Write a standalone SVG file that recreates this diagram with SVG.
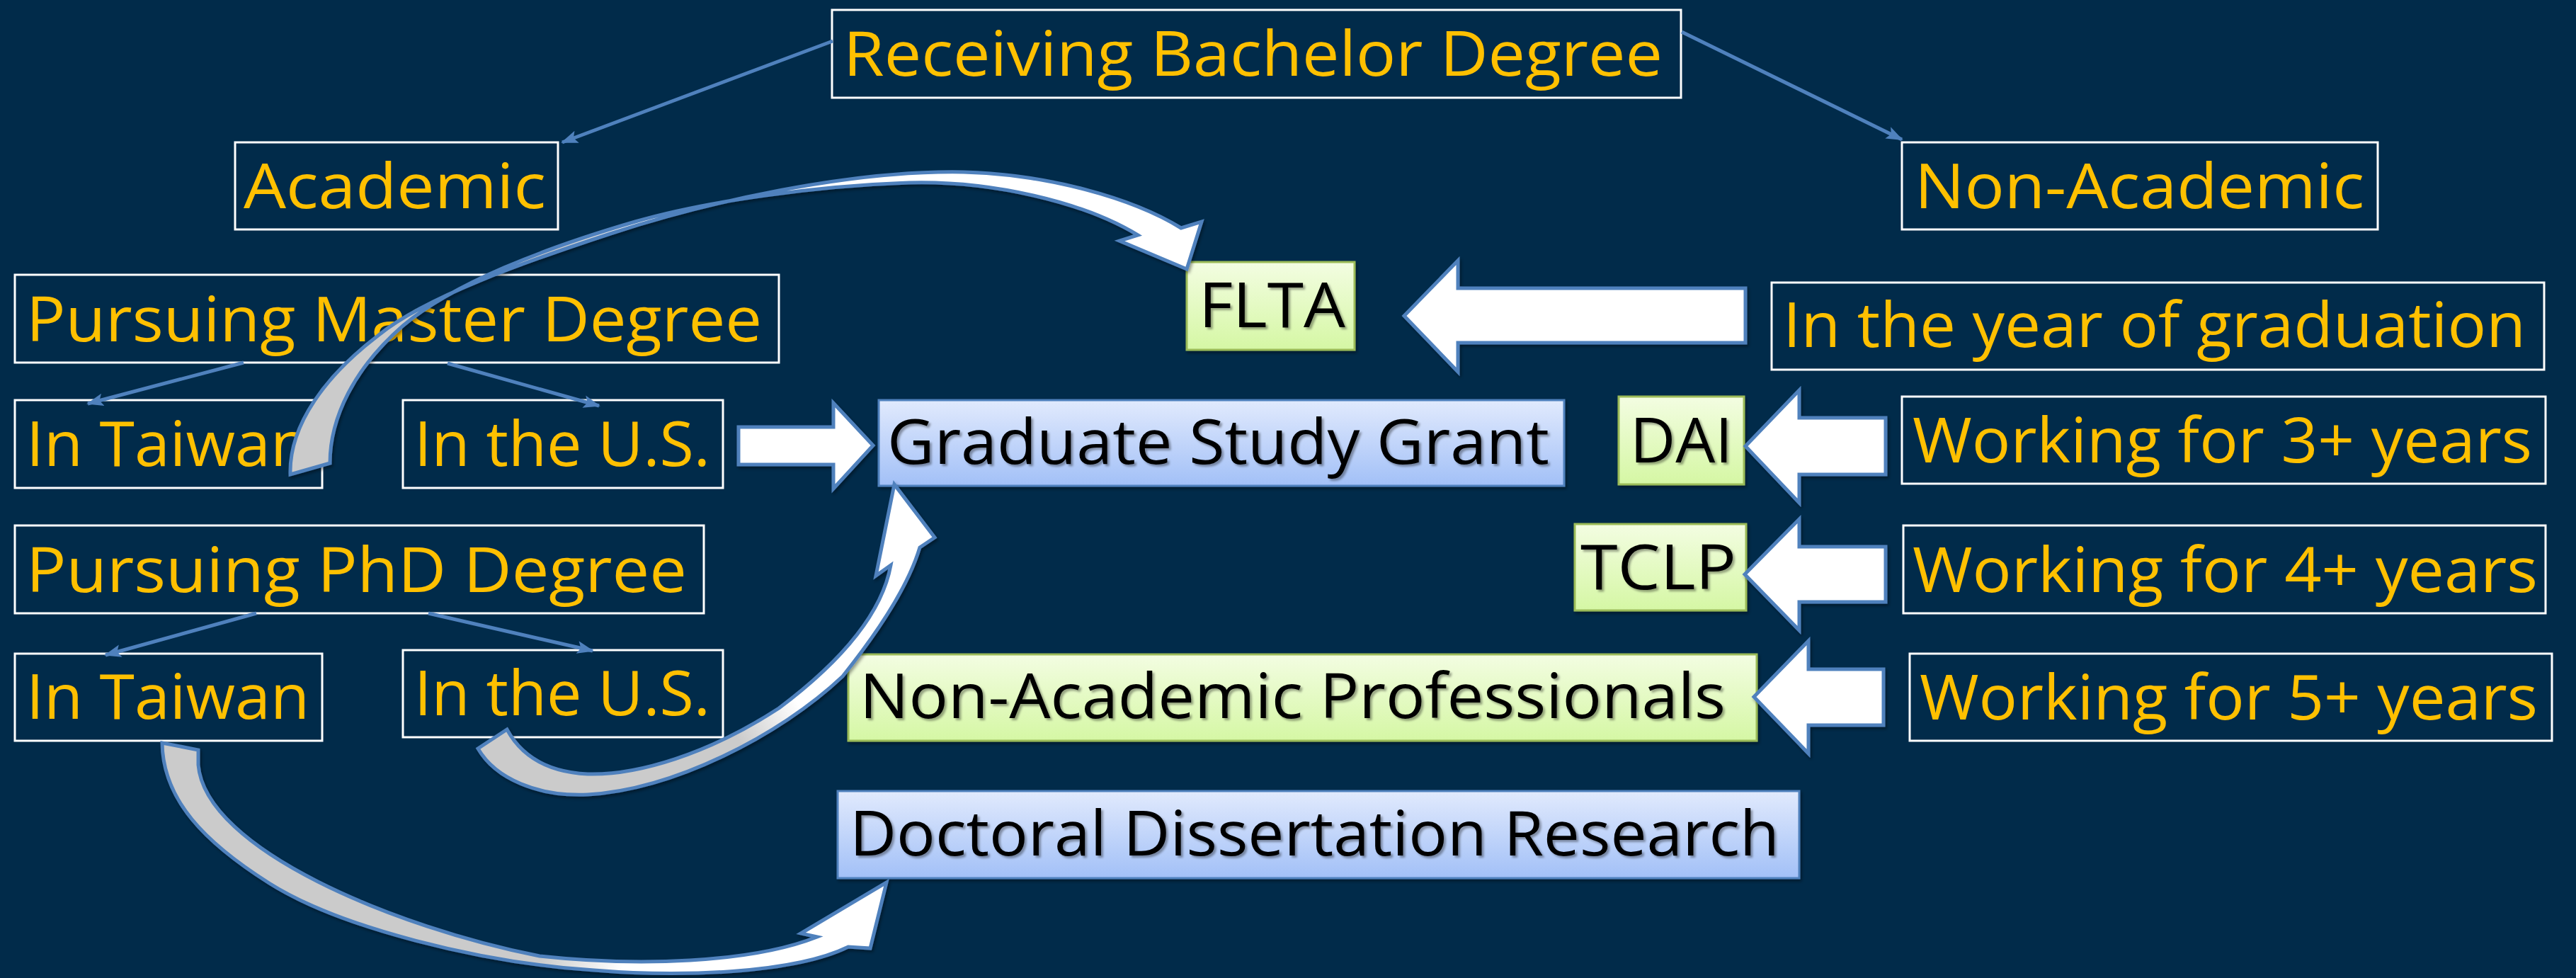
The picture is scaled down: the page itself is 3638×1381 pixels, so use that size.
<svg xmlns="http://www.w3.org/2000/svg" width="3638" height="1381" viewBox="0 0 3638 1381">
<defs>
<style>
.bg{fill:#012B4A}
.wbox{fill:none;stroke:#FFFFFF;stroke-width:3}
.yt{fill:#FFC000;font-family:"Open Sans","Liberation Sans",sans-serif;font-size:88px;font-weight:400}
.bt{fill:#000000;font-family:"Open Sans","Liberation Sans",sans-serif;font-size:88px;filter:url(#tshadow)}
.gbox{fill:url(#green);stroke:#9BBB59;stroke-width:3;filter:url(#bshadow)}
.bbox{fill:url(#blue);stroke:#4F81BD;stroke-width:3;filter:url(#bshadow)}
.line{stroke:#4F81BD;stroke-width:5;fill:none;marker-end:url(#ah)}
.block{fill:#FFFFFF;stroke:#4F81BD;stroke-width:5;stroke-linejoin:miter;filter:url(#bshadow)}
.curve{stroke:#4F81BD;stroke-width:5;stroke-linejoin:miter;filter:url(#bshadow)}
</style>
<linearGradient id="green" x1="0" y1="0" x2="0" y2="1">
<stop offset="0" stop-color="#F3FDE2"/>
<stop offset="1" stop-color="#D5F7A4"/>
</linearGradient>
<linearGradient id="blue" x1="0" y1="0" x2="0" y2="1">
<stop offset="0" stop-color="#E1EAFD"/>
<stop offset="1" stop-color="#A2C0F7"/>
</linearGradient>
<linearGradient id="gA" gradientUnits="userSpaceOnUse" x1="410" y1="650" x2="1700" y2="300">
<stop offset="0" stop-color="#CBCBCB"/>
<stop offset="0.33" stop-color="#CBCBCB"/>
<stop offset="0.45" stop-color="#FFFFFF"/>
<stop offset="1" stop-color="#FFFFFF"/>
</linearGradient>
<linearGradient id="gB" gradientUnits="userSpaceOnUse" x1="675" y1="1100" x2="1320" y2="700">
<stop offset="0" stop-color="#CBCBCB"/>
<stop offset="0.45" stop-color="#CBCBCB"/>
<stop offset="0.58" stop-color="#FFFFFF"/>
<stop offset="1" stop-color="#FFFFFF"/>
</linearGradient>
<linearGradient id="gC" gradientUnits="userSpaceOnUse" x1="229" y1="1100" x2="1252" y2="1350">
<stop offset="0" stop-color="#CBCBCB"/>
<stop offset="0.55" stop-color="#CBCBCB"/>
<stop offset="0.66" stop-color="#FFFFFF"/>
<stop offset="1" stop-color="#FFFFFF"/>
</linearGradient>
<filter id="tshadow" x="-5%" y="-20%" width="110%" height="140%">
<feDropShadow dx="3" dy="3" stdDeviation="1.5" flood-color="#000000" flood-opacity="0.35"/>
</filter>
<filter id="bshadow" x="-5%" y="-5%" width="110%" height="115%">
<feDropShadow dx="2" dy="3" stdDeviation="2" flood-color="#000000" flood-opacity="0.4"/>
</filter>
<marker id="ah" markerUnits="userSpaceOnUse" markerWidth="24" markerHeight="20" viewBox="0 0 24 20" refX="22" refY="10" orient="auto">
<path d="M0,1 L24,10 L0,19 L5,10 Z" fill="#4F81BD"/>
</marker>
</defs>
<rect class="bg" x="0" y="0" width="3638" height="1381"/>

<g id="node-receiving">
<rect class="wbox" x="1175" y="14" width="1199" height="124"/>
<text class="yt" x="1191" y="107" textLength="1157" lengthAdjust="spacingAndGlyphs">Receiving Bachelor Degree</text>
</g>
<g id="node-academic">
<rect class="wbox" x="332" y="201" width="456" height="123"/>
<text class="yt" x="344" y="294" textLength="427" lengthAdjust="spacingAndGlyphs">Academic</text>
</g>
<g id="node-nonacademic">
<rect class="wbox" x="2686" y="201" width="672" height="123"/>
<text class="yt" x="2704" y="294" textLength="635" lengthAdjust="spacingAndGlyphs">Non-Academic</text>
</g>
<g id="node-master">
<rect class="wbox" x="21" y="388" width="1079" height="124"/>
<text class="yt" x="37" y="482" textLength="1039" lengthAdjust="spacingAndGlyphs">Pursuing Master Degree</text>
</g>
<g id="node-master-taiwan">
<rect class="wbox" x="21" y="565" width="434" height="124"/>
<text class="yt" x="37" y="658" textLength="400" lengthAdjust="spacingAndGlyphs">In Taiwan</text>
</g>
<g id="node-master-us">
<rect class="wbox" x="569" y="565" width="452" height="124"/>
<text class="yt" x="585" y="658" textLength="418" lengthAdjust="spacingAndGlyphs">In the U.S.</text>
</g>
<g id="node-phd">
<rect class="wbox" x="21" y="742" width="973" height="124"/>
<text class="yt" x="37" y="836" textLength="933" lengthAdjust="spacingAndGlyphs">Pursuing PhD Degree</text>
</g>
<g id="node-phd-taiwan">
<rect class="wbox" x="21" y="923" width="434" height="123"/>
<text class="yt" x="37" y="1015" textLength="400" lengthAdjust="spacingAndGlyphs">In Taiwan</text>
</g>
<g id="node-phd-us">
<rect class="wbox" x="569" y="918" width="452" height="123"/>
<text class="yt" x="585" y="1010" textLength="418" lengthAdjust="spacingAndGlyphs">In the U.S.</text>
</g>
<g id="node-graduation">
<rect class="wbox" x="2502" y="399" width="1091" height="123"/>
<text class="yt" x="2518" y="490" textLength="1049" lengthAdjust="spacingAndGlyphs">In the year of graduation</text>
</g>
<g id="node-work3">
<rect class="wbox" x="2686" y="560" width="909" height="123"/>
<text class="yt" x="2701" y="653" textLength="875" lengthAdjust="spacingAndGlyphs">Working for 3+ years</text>
</g>
<g id="node-work4">
<rect class="wbox" x="2688" y="742" width="907" height="124"/>
<text class="yt" x="2701" y="836" textLength="883" lengthAdjust="spacingAndGlyphs">Working for 4+ years</text>
</g>
<g id="node-work5">
<rect class="wbox" x="2697" y="923" width="907" height="123"/>
<text class="yt" x="2711" y="1016" textLength="873" lengthAdjust="spacingAndGlyphs">Working for 5+ years</text>
</g>

<g id="node-flta">
<rect class="gbox" x="1676" y="370" width="237" height="124"/>
<text class="bt" x="1693" y="462" textLength="207" lengthAdjust="spacingAndGlyphs">FLTA</text>
</g>
<g id="node-gsg">
<rect class="bbox" x="1241" y="565" width="968" height="121"/>
<text class="bt" x="1253" y="655" textLength="935" lengthAdjust="spacingAndGlyphs">Graduate Study Grant</text>
</g>
<g id="node-dai">
<rect class="gbox" x="2286" y="560" width="177" height="124"/>
<text class="bt" x="2302" y="653" textLength="145" lengthAdjust="spacingAndGlyphs">DAI</text>
</g>
<g id="node-tclp">
<rect class="gbox" x="2224" y="740" width="242" height="122"/>
<text class="bt" x="2232" y="832" textLength="220" lengthAdjust="spacingAndGlyphs">TCLP</text>
</g>
<g id="node-nap">
<rect class="gbox" x="1198" y="924" width="1283" height="122"/>
<text class="bt" x="1214" y="1014" textLength="1223" lengthAdjust="spacingAndGlyphs">Non-Academic Professionals</text>
</g>
<g id="node-ddr">
<rect class="bbox" x="1183" y="1117" width="1358" height="123"/>
<text class="bt" x="1200" y="1208" textLength="1313" lengthAdjust="spacingAndGlyphs">Doctoral Dissertation Research</text>
</g>

<g id="connectors">
<line class="line" x1="1176" y1="58" x2="794" y2="201"/>
<line class="line" x1="2375" y1="45" x2="2686" y2="197"/>
<line class="line" x1="344" y1="512" x2="124" y2="570"/>
<line class="line" x1="632" y1="513" x2="846" y2="573"/>
<line class="line" x1="362" y1="866" x2="149" y2="925"/>
<line class="line" x1="605" y1="866" x2="837" y2="919"/>

<polygon class="block" points="1043,603 1177,603 1177,569 1233,629 1177,690 1177,656 1043,656"/>
<polygon class="block" points="2465,407 2059,407 2059,368 1983,446 2059,525 2059,484 2465,484"/>
<polygon class="block" points="2663,590 2541,590 2541,551 2465,630 2541,710 2541,670 2663,670"/>
<polygon class="block" points="2663,772 2541,772 2541,733 2464,811 2541,890 2541,850 2663,850"/>
<polygon class="block" points="2660,945 2554,945 2554,905 2477,984 2554,1064 2554,1024 2660,1024"/>

<path class="curve" fill="url(#gA)" d="M410,670 C408,600 460,530 535,473 C600,420 740,370 862,330 C1000,285 1200,240 1361,243 C1480,246 1600,280 1668,322 L1697,313 L1676,380 L1581,340 L1607,332 C1530,285 1400,255 1284,258 C1160,262 1000,283 897,313 C770,350 640,400 569,460 C500,520 466,590 466,654 Z"/>
<path class="curve" fill="url(#gB)" d="M675,1057 C700,1100 760,1125 830,1122 C950,1115 1100,1040 1190,955 C1250,880 1285,820 1299,773 L1320,759 L1263,684 L1237,813 L1258,798 C1245,870 1180,940 1100,1000 C1000,1065 900,1095 830,1093 C770,1090 735,1065 716,1030 Z"/>
<path class="curve" fill="url(#gC)" d="M229,1049 C230,1130 290,1190 380,1247 C480,1310 680,1360 839,1370 C960,1380 1120,1375 1198,1337 L1229,1339 L1252,1246 L1131,1318 L1154,1323 C1060,1360 900,1365 762,1350 C560,1310 290,1200 280,1080 L280,1059 Z"/>
</g>
</svg>
